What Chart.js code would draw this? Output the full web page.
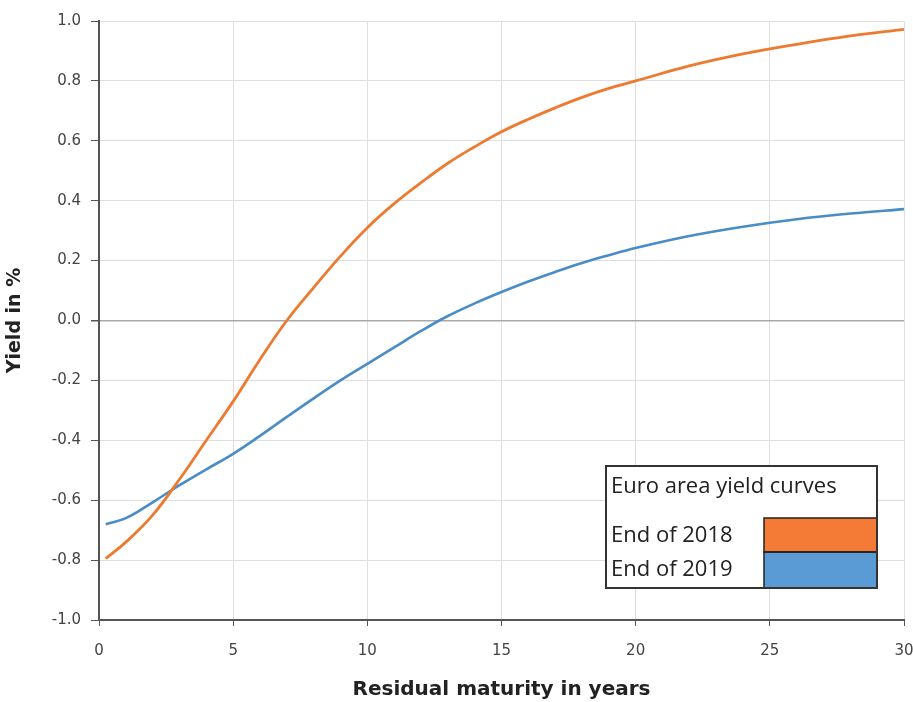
<!DOCTYPE html>
<html>
<head>
<meta charset="utf-8">
<script src="https://cdn.jsdelivr.net/npm/chart.js@4"></script>
<style>
  html, body { margin: 0; padding: 0; background: #fff; }
  #wrap { width: 913px; height: 702px; position: relative; }
</style>
</head>
<body>
<div id="wrap"><canvas id="yieldChart"></canvas></div>
<script>
// maturities (years) and yields (%)
const maturities = [0.25, 1, 2, 3, 4, 5, 6, 7, 8, 9, 10, 11, 12, 13, 14, 15, 16, 17, 18, 19, 20, 22, 24, 26, 28, 30];
const yields2018 = [-0.795, -0.74, -0.65, -0.53, -0.40, -0.27, -0.13, 0.0, 0.11, 0.215, 0.31, 0.39, 0.46, 0.525, 0.58, 0.63, 0.672, 0.71, 0.745, 0.775, 0.80, 0.85, 0.89, 0.922, 0.95, 0.972];
const yields2019 = [-0.68, -0.66, -0.607, -0.55, -0.497, -0.445, -0.385, -0.322, -0.26, -0.20, -0.145, -0.09, -0.035, 0.015, 0.057, 0.095, 0.13, 0.162, 0.192, 0.218, 0.242, 0.282, 0.313, 0.338, 0.357, 0.372];
const seriesLabels = ['End of 2018', 'End of 2019'];
const legendTitle = 'Euro area yield curves';
const xTicks = [0, 5, 10, 15, 20, 25, 30];

const toPoints = ys => maturities.map((m, i) => ({ x: m, y: ys[i] }));

// legend box drawn inside the plot area, like the original
const boxLegend = {
    id: 'boxLegend',
    afterDraw(chart) {
        const ctx = chart.ctx;
        const x0 = 606, y0 = 466, x1 = 877, y1 = 588;
        const swX = 764, midY = 552, swTop = 518;
        ctx.save();
        ctx.fillStyle = '#fff';
        ctx.fillRect(x0, y0, x1 - x0, y1 - y0);
        ctx.fillStyle = '#f47b35';
        ctx.fillRect(swX, swTop, x1 - swX, midY - swTop);
        ctx.fillStyle = '#5b9bd5';
        ctx.fillRect(swX, midY, x1 - swX, y1 - midY);
        ctx.strokeStyle = '#222';
        ctx.lineWidth = 1.5;
        ctx.strokeRect(swX, swTop, x1 - swX, midY - swTop);
        ctx.strokeRect(swX, midY, x1 - swX, y1 - midY);
        ctx.lineWidth = 2;
        ctx.strokeStyle = '#333';
        ctx.strokeRect(x0, y0, x1 - x0, y1 - y0);
        ctx.fillStyle = '#222';
        ctx.font = '22px "Open Sans", sans-serif';
        ctx.textBaseline = 'middle';
        ctx.fillText(legendTitle, 611, 487);
        ctx.fillText(seriesLabels[0], 611, 536);
        ctx.fillText(seriesLabels[1], 611, 570);
        ctx.restore();
    }
};

const ctx = document.getElementById('yieldChart').getContext('2d');
new Chart(ctx, {
    type: 'line',
    data: {
        datasets: [
            { label: seriesLabels[0], data: toPoints(yields2018), borderColor: '#ee7a30', borderWidth: 2.8, pointRadius: 0, tension: 0.4 },
            { label: seriesLabels[1], data: toPoints(yields2019), borderColor: '#4a8cc6', borderWidth: 2.6, pointRadius: 0, tension: 0.4 }
        ]
    },
    options: {
        responsive: true,
        maintainAspectRatio: false,
        animation: false,
        layout: { padding: { top: 21, right: 0, left: 0, bottom: 0 } },
        plugins: { legend: { display: false }, tooltip: { enabled: false } },
        scales: {
            x: {
                type: 'linear', min: 0, max: 30,
                afterBuildTicks: s => { s.ticks = xTicks.map(v => ({ value: v })); },
                afterFit: s => { s.height = 82; s.paddingRight = 9; },
                border: { color: '#555', width: 2 },
                grid: { color: '#dedede', tickColor: '#555', tickLength: 6, lineWidth: 1 },
                ticks: { color: '#444', font: { family: 'DejaVu Sans', size: 15 }, padding: 16, maxRotation: 0 },
                title: { display: true, text: 'Residual maturity in years', color: '#222', font: { family: 'DejaVu Sans', size: 20, weight: 'bold' }, padding: { top: 14, bottom: 0 } }
            },
            y: {
                min: -1, max: 1,
                ticks: { stepSize: 0.2, color: '#444', font: { family: 'DejaVu Sans', size: 15 }, padding: 10, callback: v => v.toFixed(1) },
                afterFit: s => { s.width = 99; },
                border: { color: '#555', width: 2 },
                grid: {
                    color: c => (c.tick && Math.abs(c.tick.value) < 1e-9 ? '#a8a8a8' : '#dedede'),
                    lineWidth: c => (c.tick && Math.abs(c.tick.value) < 1e-9 ? 1.5 : 1),
                    tickColor: '#555', tickLength: 8
                },
                title: { display: true, text: 'Yield in %', color: '#222', font: { family: 'DejaVu Sans', size: 19, weight: 'bold' }, padding: { bottom: 0 } }
            }
        }
    },
    plugins: [boxLegend]
});
</script>
</body>
</html>
